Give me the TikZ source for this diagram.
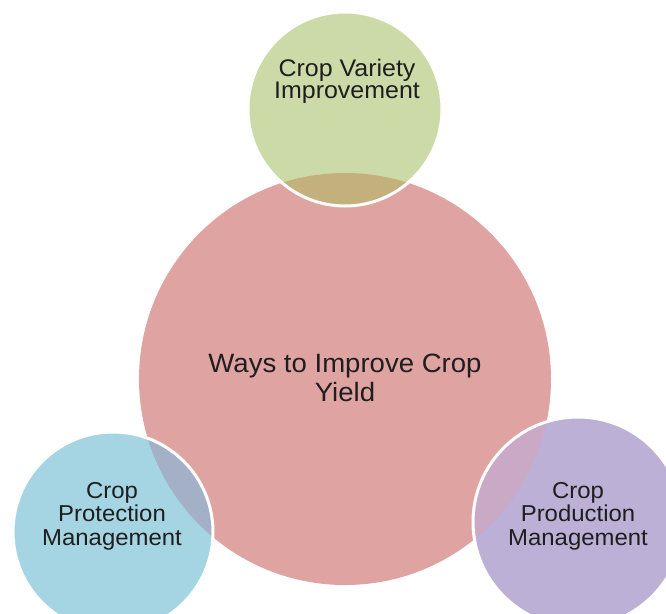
\documentclass[tikz,border=0pt]{standalone}
\usepackage{fontspec}
\setmainfont{Liberation Sans}[FakeStretch=1.04]
\definecolor{corec}{HTML}{DFA4A1}
\definecolor{greenc}{HTML}{CCDAA8}
\definecolor{bluec}{HTML}{A5D5E3}
\definecolor{purplec}{HTML}{BDB0D7}
\definecolor{ovgreen}{HTML}{C4B07C}
\definecolor{ovblue}{HTML}{A3B0C6}
\definecolor{ovpurple}{HTML}{C9A9C6}
\definecolor{txt}{HTML}{1E1E1E}
\tikzset{
  bubble/.style={circle, draw=none, inner sep=0pt, outer sep=0pt},
  rim/.style={draw=white, line width=3pt},
  smalltxt/.style={text=txt, align=center, inner sep=0pt,
    font=\fontsize{23}{23.5}\selectfont},
  toptxt/.style={text=txt, align=center, inner sep=0pt,
    font=\fontsize{24}{22}\selectfont},
  bigtxt/.style={text=txt, align=center, inner sep=0pt,
    font=\fontsize{26.5}{29}\selectfont}
}
\begin{document}
\begin{tikzpicture}[x=1pt,y=-1pt]
\useasboundingbox (0,0) rectangle (666,613);
\clip (0,0) rectangle (666,613);
\fill[white] (0,0) rectangle (666,613);
% main circle
\node[bubble, fill=corec, minimum size=412pt] (core) at (345,379) {};
% outer circles
\node[bubble, fill=greenc, minimum size=194pt] (variety) at (345,109) {};
\node[bubble, fill=bluec, minimum size=200pt] (protect) at (113,532) {};
\node[bubble, fill=purplec, minimum size=210pt] (produce) at (578,522) {};
% overlaps
\begin{scope}
  \clip (core.center) circle[radius=206pt];
  \fill[ovgreen] (variety.center) circle[radius=97pt];
  \fill[ovblue] (protect.center) circle[radius=100pt];
  \fill[ovpurple] (produce.center) circle[radius=105pt];
\end{scope}
% white rims
\draw[rim] (variety.center) circle[radius=97pt];
\draw[rim] (protect.center) circle[radius=100pt];
\draw[rim] (produce.center) circle[radius=105pt];
% labels
\node[bigtxt] (coretxt) at (345,378) {Ways to Improve Crop\\Yield};
\node[toptxt] (varietytxt) at (347,81) {Crop Variety\\Improvement};
\node[smalltxt] (protecttxt) at (112,516) {Crop\\Protection\\Management};
\node[smalltxt] (producetxt) at (578,516) {Crop\\Production\\Management};
\end{tikzpicture}
\end{document}
